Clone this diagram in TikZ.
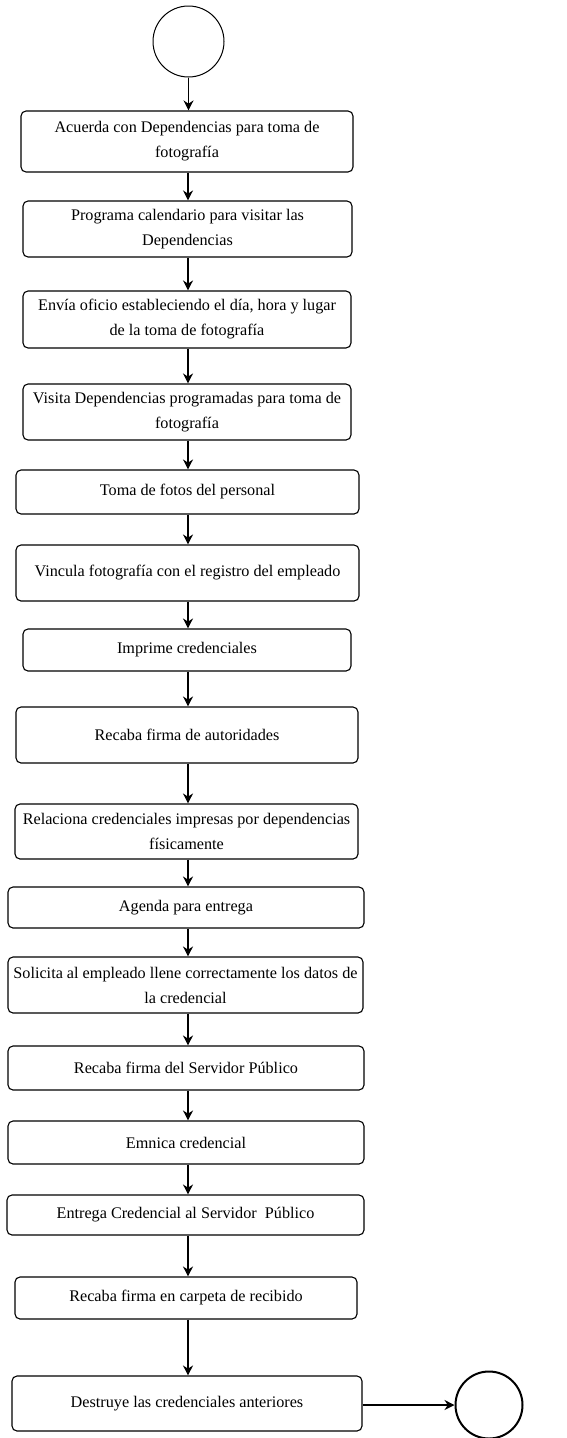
\documentclass[tikz,border=0pt]{standalone}
\usepackage{fontspec}
\setmainfont{Liberation Serif}
\usetikzlibrary{arrows.meta}
\begin{document}
\begin{tikzpicture}[x=1pt,y=-1pt,
  stepbox/.style={draw, line width=1.1pt, rounded corners=5pt, align=center,
    inner sep=0pt, font=\fontsize{16.2}{25}\selectfont},
  arr/.style={draw, line width=1.1pt, -{Stealth[length=10pt,width=10pt]}},
  term/.style={draw, circle, inner sep=0pt}]
\useasboundingbox (0,0) rectangle (566,1438);
\node[term, line width=1pt, minimum size=71pt] (ini) at (188.5,41.5) {};
\node[stepbox, minimum width=332pt, minimum height=61pt] (b1) at (187,141.5) {Acuerda con Dependencias para toma de\\fotografía};
\node[stepbox, minimum width=329pt, minimum height=56pt] (b2) at (187.5,229) {Programa calendario para visitar las\\Dependencias};
\node[stepbox, minimum width=328pt, minimum height=57pt] (b3) at (187,319.5) {Envía oficio estableciendo el día, hora y lugar\\de la toma de fotografía};
\node[stepbox, minimum width=328pt, minimum height=56pt] (b4) at (187,412) {Visita Dependencias programadas para toma de\\fotografía};
\node[stepbox, minimum width=343pt, minimum height=44pt] (b5) at (187.5,492) {Toma de fotos del personal};
\node[stepbox, minimum width=343pt, minimum height=56pt] (b6) at (187.5,573) {Vincula fotografía con el registro del empleado};
\node[stepbox, minimum width=328pt, minimum height=42pt] (b7) at (187,650) {Imprime credenciales};
\node[stepbox, minimum width=342pt, minimum height=56pt] (b8) at (187,735) {Recaba firma de autoridades};
\node[stepbox, minimum width=343pt, minimum height=55pt] (b9) at (186.5,831.5) {Relaciona credenciales impresas por dependencias\\físicamente};
\node[stepbox, minimum width=356pt, minimum height=41pt] (b10) at (186,907.5) {Agenda para entrega};
\node[stepbox, minimum width=355pt, minimum height=56pt] (b11) at (185.5,985) {Solicita al empleado llene correctamente los datos de\\la credencial};
\node[stepbox, minimum width=356pt, minimum height=44pt] (b12) at (186,1068) {Recaba firma del Servidor Público};
\node[stepbox, minimum width=356pt, minimum height=43pt] (b13) at (186,1142.5) {Emnica credencial};
\node[stepbox, minimum width=357pt, minimum height=40pt] (b14) at (185.5,1215) {Entrega Credencial al Servidor\ \ Público};
\node[stepbox, minimum width=342pt, minimum height=42pt] (b15) at (186,1298) {Recaba firma en carpeta de recibido};
\node[stepbox, minimum width=350pt, minimum height=55pt] (b16) at (187,1403.5) {Destruye las credenciales anteriores};
\node[term, line width=2pt, minimum size=67pt] (fin) at (489,1405) {};
\coordinate (ax) at (188,0);
\draw[arr] (ini.south) -- (ini.south |- b1.north);
\foreach \a/\b in {b1/b2,b2/b3,b3/b4,b4/b5,b5/b6,b6/b7,b7/b8,b8/b9,b9/b10,b10/b11,b11/b12,b12/b13,b13/b14,b14/b15,b15/b16}
  \draw[arr] (\a.south -| ax) -- (\b.north -| ax);
\draw[arr] (b16.east |- fin.west) -- (fin.west);
\end{tikzpicture}
\end{document}
